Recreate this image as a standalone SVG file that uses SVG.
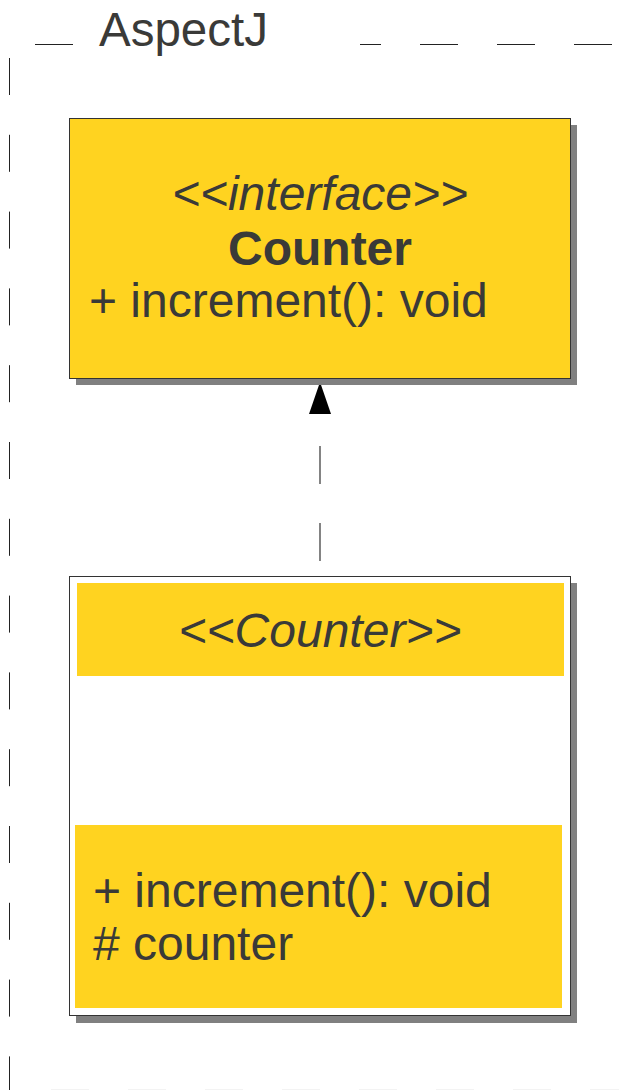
<svg xmlns="http://www.w3.org/2000/svg" width="619" height="1090" viewBox="0 0 619 1090">
<style>
.t{font-family:"Liberation Sans",Arial,sans-serif;font-size:48px;fill:#3a3a38}
.frame{stroke:#222;stroke-width:1;fill:none}
.shadow{fill:#808080}
.yellow{fill:#ffd320}
</style>
<rect width="619" height="1090" fill="#fff"/>
<g id="frame">
<line class="frame" x1="35" y1="44.5" x2="619" y2="44.5" stroke-dasharray="38 39"/>
<rect x="75" y="15" width="285" height="45" fill="#fff"/>
<text class="t" x="99" y="46" font-size="47" textLength="169" lengthAdjust="spacingAndGlyphs">AspectJ</text>
<line class="frame" x1="9.5" y1="58" x2="9.5" y2="1090" stroke-dasharray="37 39.8"/>
<line x1="51" y1="1090" x2="619" y2="1090" stroke="#e6e6e6" stroke-width="1" stroke-dasharray="38 39"/>
</g>
<g id="connectors">
<line x1="320" y1="561" x2="320" y2="400" stroke="#333" stroke-width="1.2" stroke-dasharray="38 39"/>
<polygon points="320,382 331,414 309,414" fill="#000"/>
</g>
<g id="interface-counter">
<rect class="shadow" x="76" y="125" width="501" height="260"/>
<rect class="yellow" x="69.5" y="118.5" width="501" height="260" stroke="#333" stroke-width="1"/>
<text class="t" x="320" y="210" text-anchor="middle" font-style="italic">&lt;&lt;interface&gt;&gt;</text>
<text class="t" x="320" y="265" text-anchor="middle" font-weight="bold">Counter</text>
<text class="t" x="89" y="317">+ increment(): void</text>
</g>
<g id="aspect-counter">
<rect class="shadow" x="76" y="583" width="501" height="440"/>
<rect x="69.5" y="576.5" width="501" height="439" fill="#fff" stroke="#333" stroke-width="1"/>
<rect class="yellow" x="77" y="583" width="487" height="93"/>
<text class="t" x="320" y="647" text-anchor="middle" font-style="italic">&lt;&lt;Counter&gt;&gt;</text>
<rect class="yellow" x="75" y="825" width="487" height="183"/>
<text class="t" x="93" y="907">+ increment(): void</text>
<text class="t" x="93" y="960"># counter</text>
</g>
</svg>
